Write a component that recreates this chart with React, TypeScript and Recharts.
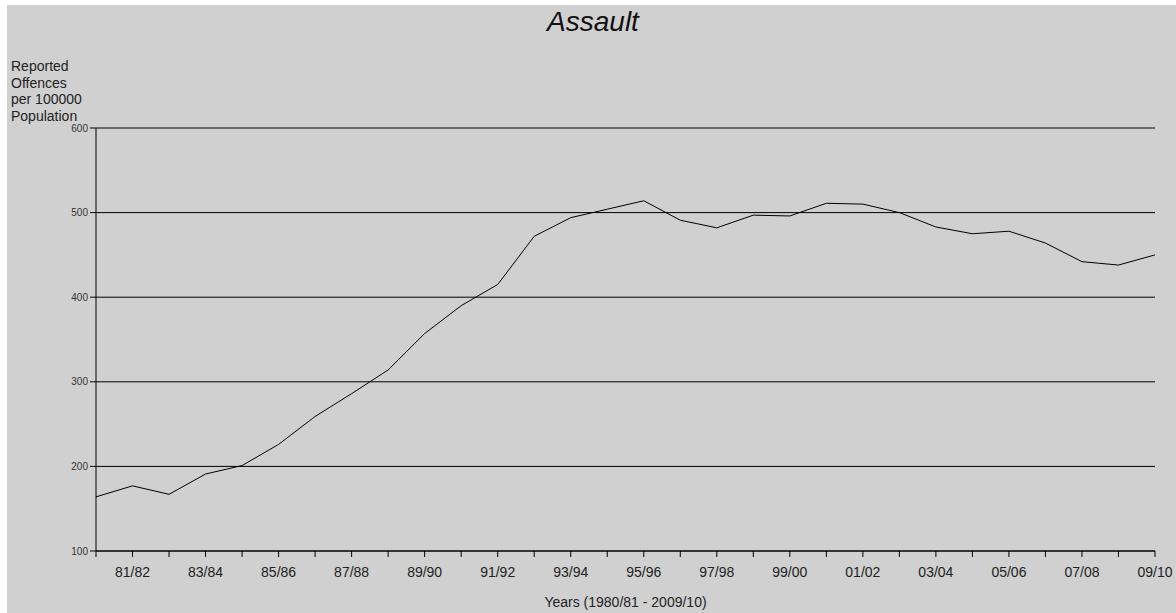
import { CartesianGrid, Line, LineChart, XAxis, YAxis } from "recharts";

const years = [
  "80/81", "81/82", "82/83", "83/84", "84/85", "85/86", "86/87", "87/88",
  "88/89", "89/90", "90/91", "91/92", "92/93", "93/94", "94/95", "95/96",
  "96/97", "97/98", "98/99", "99/00", "00/01", "01/02", "02/03", "03/04",
  "04/05", "05/06", "06/07", "07/08", "08/09", "09/10",
];

const assault = [
  164, 177, 167, 191, 201, 226, 259, 286, 314, 357, 390, 415, 472, 494, 504,
  514, 491, 482, 497, 496, 511, 510, 500, 483, 475, 478, 464, 442, 438, 450,
];

const yTicks = [100, 200, 300, 400, 500, 600];
const yLabelLines = ["Reported", "Offences", "per 100000", "Population"];

const data = years.map((year, i) => ({ year, value: assault[i] }));

const FONT = '"Liberation Sans", Arial, sans-serif';
const TEXT = "#222";

function YearTick(props: any) {
  const { x, y, payload, index } = props;
  const i = payload?.index ?? index;
  if (i % 2 === 0) return null;
  return (
    <text x={x} y={y} dy={18} textAnchor="middle" fontSize={14} fill={TEXT} fontFamily={FONT}>
      {payload.value}
    </text>
  );
}

export default function App() {
  return (
    <div
      style={{
        position: "absolute",
        left: 7,
        top: 5,
        width: 1169,
        height: 608,
        background: "#d0d0d0",
        fontFamily: FONT,
        color: TEXT,
      }}
    >
      <div
        style={{
          position: "absolute",
          left: 0,
          top: 3,
          width: 1172,
          textAlign: "center",
          fontSize: 28,
          lineHeight: "28px",
          fontStyle: "italic",
          color: "#111",
        }}
      >
        Assault
      </div>
      <div
        style={{
          position: "absolute",
          left: 4,
          top: 53,
          fontSize: 14,
          lineHeight: "16.5px",
        }}
      >
        {yLabelLines.map((l) => (
          <div key={l}>{l}</div>
        ))}
      </div>
      <LineChart
        width={1169}
        height={608}
        data={data}
        margin={{ top: 123, right: 21, left: 0, bottom: 0 }}
      >
        <CartesianGrid vertical={false} stroke="#000" strokeWidth={1} />
        <XAxis
          dataKey="year"
          interval={0}
          height={62}
          tick={<YearTick />}
          tickLine={{ stroke: "#000" }}
          axisLine={{ stroke: "#000" }}
          label={{
            content: ({ viewBox }: any) => (
              <text
                x={viewBox.x + viewBox.width / 2}
                y={viewBox.y + 55.7}
                textAnchor="middle"
                fontSize={14}
                fill={TEXT}
                fontFamily={FONT}
              >
                Years (1980/81 - 2009/10)
              </text>
            ),
          }}
        />
        <YAxis
          width={89}
          domain={[100, 600]}
          ticks={yTicks}
          interval={0}
          tick={{ fontSize: 10, fill: "#333", fontFamily: FONT }}
          tickLine={{ stroke: "#000" }}
          axisLine={{ stroke: "#000" }}
        />
        <Line
          type="linear"
          dataKey="value"
          stroke="#000"
          strokeWidth={1}
          dot={false}
          activeDot={false}
          isAnimationActive={false}
        />
      </LineChart>
    </div>
  );
}
